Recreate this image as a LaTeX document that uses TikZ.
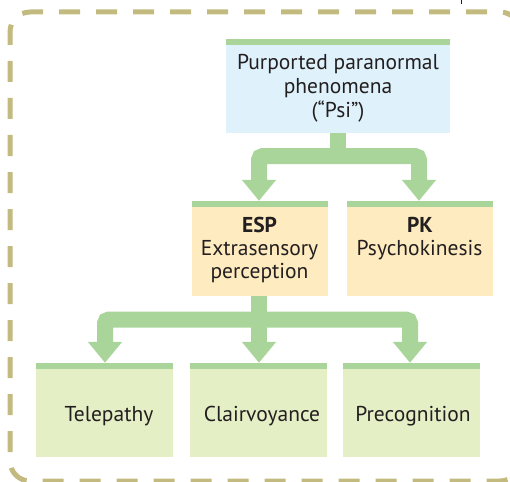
\documentclass[tikz,border=0pt]{standalone}
\usepackage{fontspec}
\setmainfont{PT Sans}
\usetikzlibrary{arrows.meta}
\definecolor{strip}{RGB}{169,213,155}
\definecolor{bluebox}{RGB}{223,241,251}
\definecolor{yellowbox}{RGB}{254,235,191}
\definecolor{greenbox}{RGB}{229,239,198}
\definecolor{bordercol}{RGB}{195,186,128}
\definecolor{ink}{RGB}{35,31,32}
\begin{document}
\begin{tikzpicture}[x=1pt,y=-1pt,
  box/.style={rectangle,inner sep=0pt,draw=none,minimum height=94pt},
  txt/.style={anchor=base,inner sep=0pt,text=ink,font=\fontsize{21.5}{26}\selectfont},
  btxt/.style={txt,font=\fontsize{21.5}{26}\selectfont\bfseries},
  conn/.style={draw=strip,line width=16pt,rounded corners=4pt},
  stemline/.style={draw=strip,line width=16pt},
  tip/.tip={Triangle[width=33pt,length=21pt]},
  bordline/.style={draw=bordercol,line width=5pt,rounded corners=20pt,dash pattern=on 21pt off 16pt,dash phase=8pt}
]
\useasboundingbox (0,0) rectangle (510,481);
\begin{scope}
\clip (0,0) rectangle (510,481);
\draw[bordline] (10,12) rectangle (520,481);
\end{scope}
\draw[ink,line width=0.8pt] (461.5,0) -- (461.5,4);

% boxes
\node[box,fill=bluebox,minimum width=224pt] (top) at (338,86) {};
\node[box,fill=yellowbox,minimum width=136pt,minimum height=95pt] (esp) at (260,248.5) {};
\node[box,fill=yellowbox,minimum width=146pt,minimum height=95pt] (pk) at (420,248.5) {};
\node[box,fill=greenbox,minimum width=137pt] (tele) at (104.5,410) {};
\node[box,fill=greenbox,minimum width=137pt] (clair) at (258.5,410) {};
\node[box,fill=greenbox,minimum width=137pt] (prec) at (411.5,410) {};
\foreach \n in {top,esp,pk,tele,clair,prec}
  \fill[strip] (\n.north west) rectangle ([yshift=-6pt]\n.north east);

% connectors
\coordinate (j1) at (338,156);
\draw[stemline] (top.south) -- (j1);
\draw[conn,{tip}-{tip}] ([xshift=-1pt]esp.north) |- (j1) -| ([xshift=-1pt]pk.north);
\coordinate (j2) at (259,319.5);
\draw[stemline,-{tip}] ([xshift=-1pt]esp.south) -- ([xshift=0.5pt]clair.north);
\draw[conn,{tip}-{tip}] ([xshift=0.5pt]tele.north) |- (j2) -| ([xshift=-1.5pt]prec.north);

% texts
\node[txt] (t1) at (338,70) {Purported paranormal};
\node[txt] (t2) at (338,93.5) {phenomena};
\node[txt] (t3) at (338,117.5) {(“Psi”)};
\node[btxt] (e1) at (259.5,232) {ESP};
\node[txt] (e2) at (259.5,255) {Extrasensory};
\node[txt] (e3) at (259.5,278) {perception};
\node[btxt] (p1) at (420,232) {PK};
\node[txt] (p2) at (419.5,255) {Psychokinesis};
\node[txt] (b1) at (109,421.5) {Telepathy};
\node[txt] (b2) at (262,421.5) {Clairvoyance};
\node[txt] (b3) at (413,421.5) {Precognition};
\end{tikzpicture}
\end{document}
